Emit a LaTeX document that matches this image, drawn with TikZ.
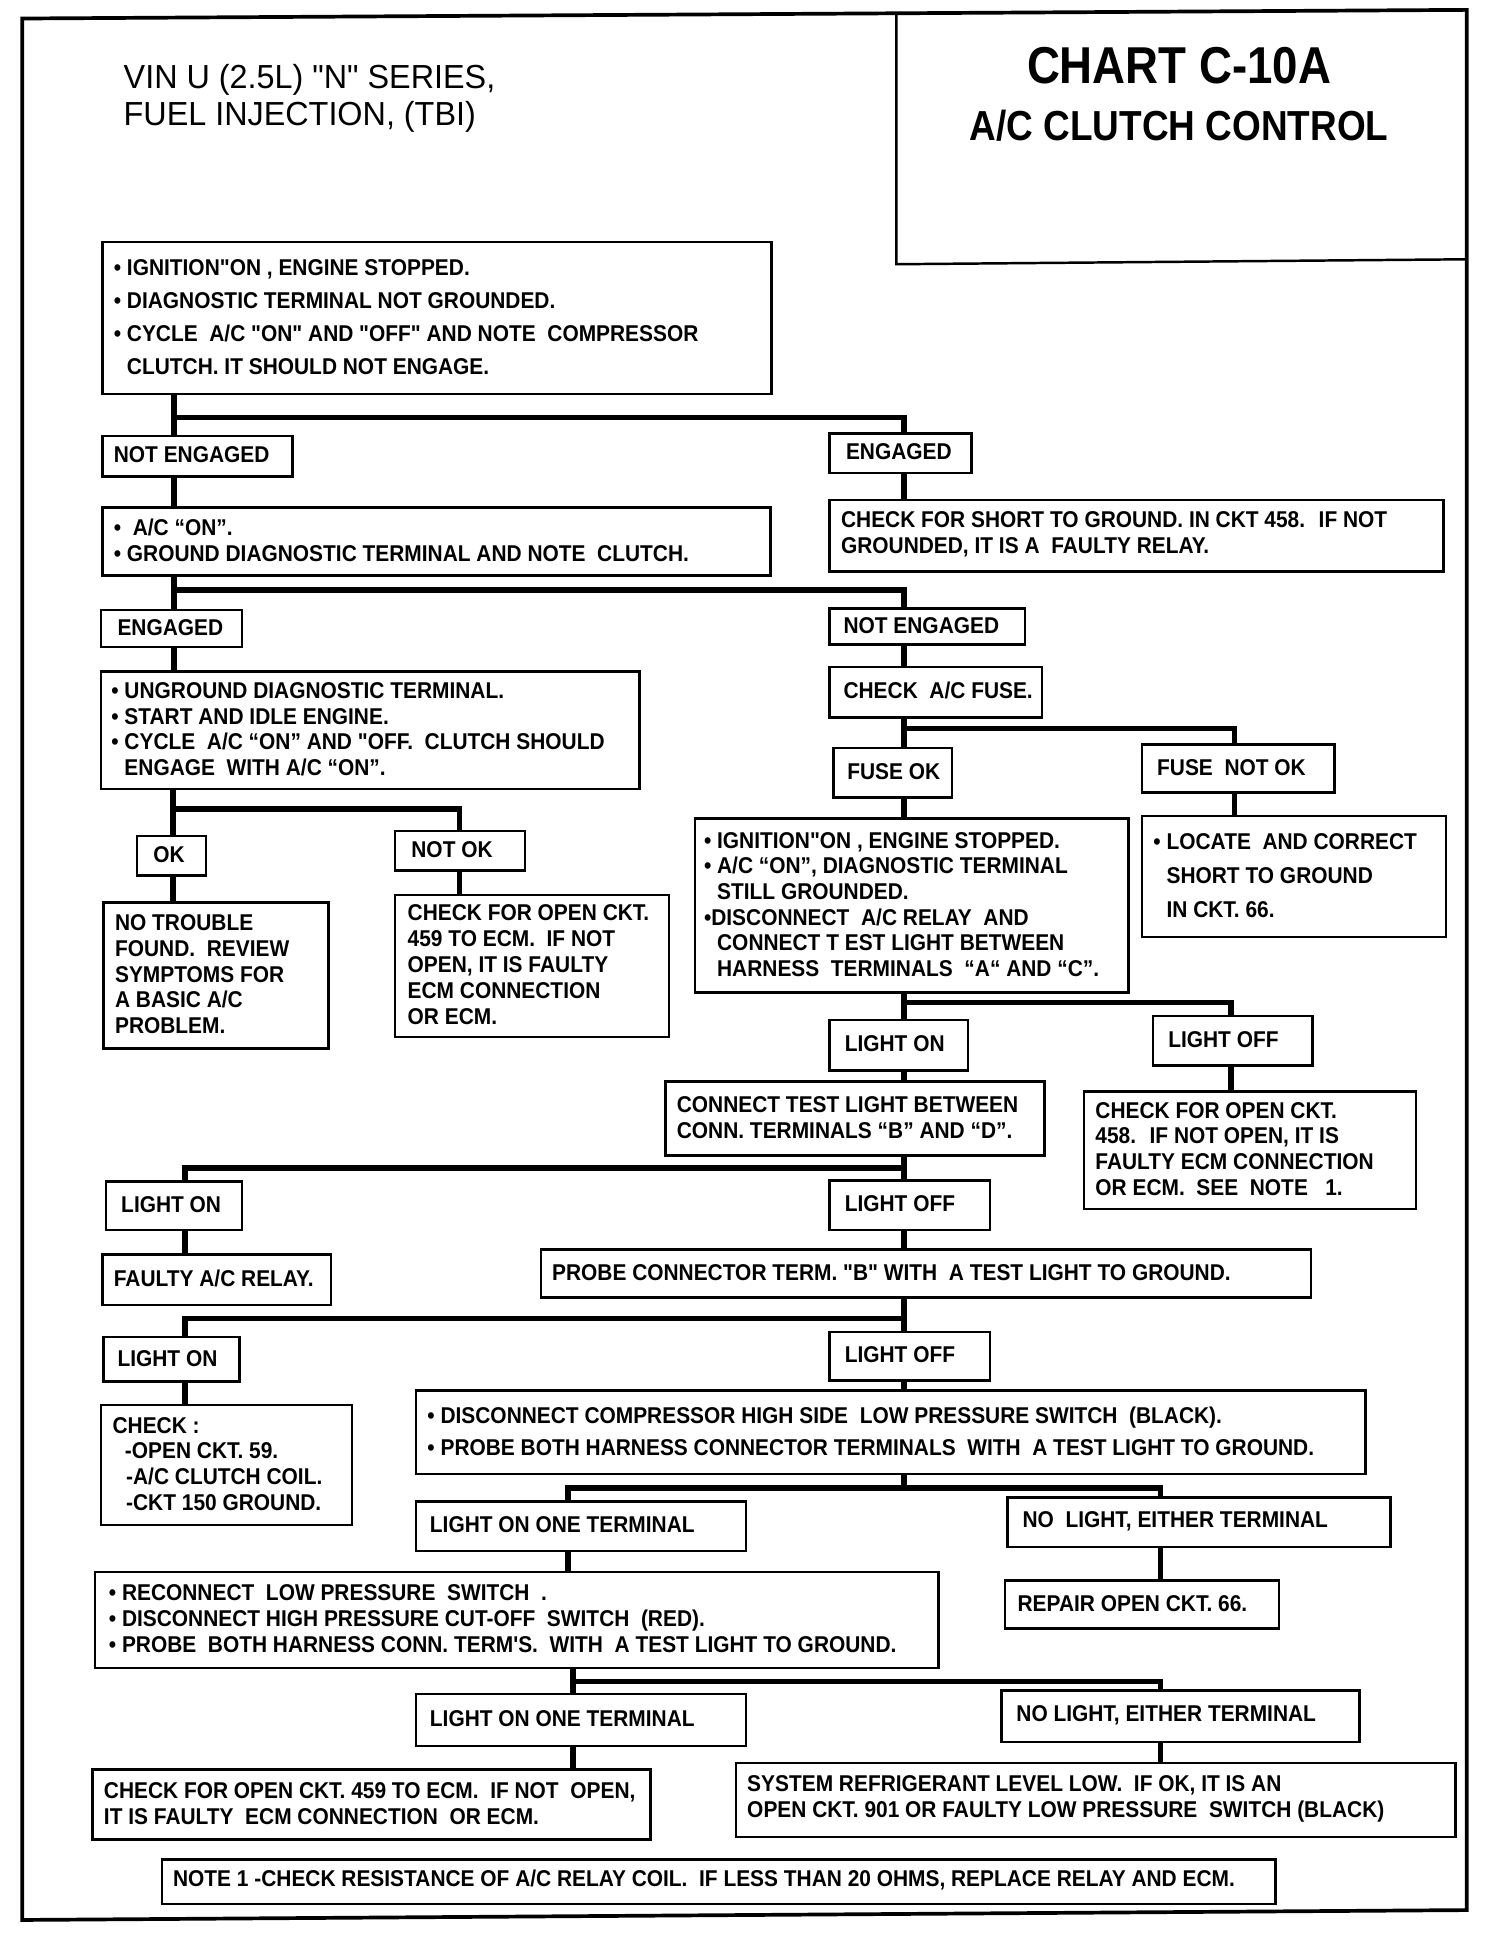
\documentclass[tikz,border=0pt]{standalone}
\usepackage{fontspec}
\usepackage{graphicx}
\setmainfont{Liberation Sans}
\newfontfamily\bxf{Liberation Sans}[FakeStretch=0.915]
\newfontfamily\ttlf{Liberation Sans}[FakeStretch=0.88]
\newfontfamily\hdf{Liberation Sans}[FakeStretch=0.97]
\usetikzlibrary{calc}
\newcommand\mkbox[8]{%
  \pgfmathsetmacro\bxw{#4-#2}%
  \pgfmathsetmacro\bxh{#5-#3}%
  \node[box, minimum width=\bxw pt, minimum height=\bxh pt] (#1) at (#2,#3) {};
  \node[txt=#7] (#1-t) at (#6,{(#3+#5)/2}) {#8};
}
\newcommand\bu{•}
\newcommand\bl{\phantom{\bu\ }}
\begin{document}
\begin{tikzpicture}[x=1pt,y=-1pt,
  box/.style={draw, line width=2pt, inner sep=0pt, anchor=north west},
  txt/.style={anchor=west, align=left, inner sep=0pt, font=\bxf\bfseries\fontsize{18.5}{#1}\selectfont},
  conn/.style={line width=4.5pt},
  frame/.style={line width=3pt}]
\useasboundingbox (0,0) rectangle (1218,1568);
% outer frame and header
\draw[frame] (18,15) -- (1188,8) -- (1188,1547) -- (18,1555) -- cycle;
\draw[line width=2pt] (726,12) -- (726,214) -- (1188,210);
\node[font=\ttlf\bfseries\fontsize{42}{42}\selectfont] (title) at (955,53) {CHART C-10A};
\node[font=\ttlf\bfseries\fontsize{34}{34}\selectfont] (subtitle) at (955,102) {A/C CLUTCH CONTROL};
\node[anchor=west, align=left, inner sep=0pt, font=\hdf\fontsize{27}{30}\selectfont] (hdr) at (100,80) {VIN U (2.5L) "N" SERIES,\\FUEL INJECTION, (TBI)};
% boxes
\mkbox{b1}{82}{195}{624}{318}{92}{26.7}{\bu\ IGNITION"ON , ENGINE STOPPED.\\\bu\ DIAGNOSTIC TERMINAL NOT GROUNDED.\\\bu\ CYCLE~ A/C "ON" AND "OFF" AND NOTE~ COMPRESSOR\\\bl CLUTCH. IT SHOULD NOT ENGAGE.}
\mkbox{ne1}{82}{352}{236}{385}{92}{20}{NOT ENGAGED}
\mkbox{eng1}{671}{350}{786}{382}{685}{20}{ENGAGED}
\mkbox{short}{671}{404}{1168}{462}{681}{21}{CHECK FOR SHORT TO GROUND. IN CKT 458.~ IF NOT\\GROUNDED, IT IS A~ FAULTY RELAY.}
\mkbox{b2}{82}{410}{623}{465}{92}{20.8}{\bu~ A/C “ON”.\\\bu\ GROUND DIAGNOSTIC TERMINAL AND NOTE~ CLUTCH.}
\mkbox{eng2}{81}{493}{195}{523}{95}{20}{ENGAGED}
\mkbox{ne2}{671}{492}{829}{521}{683}{20}{NOT ENGAGED}
\mkbox{b3}{81}{543}{517}{638}{90}{20.8}{\bu\ UNGROUND DIAGNOSTIC TERMINAL.\\\bu\ START AND IDLE ENGINE.\\\bu\ CYCLE~ A/C “ON” AND "OFF.~ CLUTCH SHOULD\\\bl ENGAGE~ WITH A/C “ON”.}
\mkbox{ok}{110}{676}{166}{708}{124}{20}{OK}
\mkbox{notok}{319}{672}{424}{704}{333}{20}{NOT OK}
\mkbox{notr}{83}{730}{265}{848}{93}{20.8}{NO TROUBLE\\FOUND.~ REVIEW\\SYMPTOMS FOR\\A BASIC A/C\\PROBLEM.}
\mkbox{cka}{319}{724}{541}{839}{330}{21}{CHECK FOR OPEN CKT.\\459 TO ECM.~ IF NOT\\OPEN, IT IS FAULTY\\ECM CONNECTION\\OR ECM.}
\mkbox{fuse}{671}{539}{843}{580}{683}{20}{CHECK~ A/C FUSE.}
\mkbox{fok}{674}{605}{770}{645}{686}{20}{FUSE OK}
\mkbox{fnok}{924}{602}{1080}{641}{937}{20}{FUSE~ NOT OK}
\mkbox{ign}{562}{662}{913}{803}{570}{20.8}{\bu\ IGNITION"ON , ENGINE STOPPED.\\\bu\ A/C “ON”, DIAGNOSTIC TERMINAL\\\bl STILL GROUNDED.\\\bu DISCONNECT~ A/C RELAY~ AND\\\bl CONNECT T EST LIGHT BETWEEN\\\bl HARNESS~ TERMINALS~ “A“ AND “C”.}
\mkbox{loc}{924}{660}{1170}{758}{934}{27.5}{\bu\ LOCATE~ AND CORRECT\\\bl SHORT TO GROUND\\\bl IN CKT. 66.}
\mkbox{lon1}{671}{825}{783}{866}{684}{20}{LIGHT ON}
\mkbox{loff1}{933}{822}{1062}{862}{946}{20}{LIGHT OFF}
\mkbox{ckb}{877}{883}{1146}{978}{887}{20.8}{CHECK FOR OPEN CKT.\\458.~ IF NOT OPEN, IT IS\\FAULTY ECM CONNECTION\\OR ECM.~ SEE~ NOTE~~ 1.}
\mkbox{conn}{538}{875}{845}{935}{548}{20.8}{CONNECT TEST LIGHT BETWEEN\\CONN. TERMINALS “B” AND “D”.}
\mkbox{lon2}{85}{956}{195}{995}{98}{20}{LIGHT ON}
\mkbox{loff2}{671}{955}{801}{995}{684}{20}{LIGHT OFF}
\mkbox{relay}{82}{1015}{267}{1056}{92}{20}{FAULTY A/C RELAY.}
\mkbox{probe}{437}{1011}{1061}{1050}{447}{20}{PROBE CONNECTOR TERM. "B" WITH~ A TEST LIGHT TO GROUND.}
\mkbox{lon3}{83}{1082}{193}{1118}{95}{20}{LIGHT ON}
\mkbox{loff3}{671}{1078}{801}{1117}{684}{20}{LIGHT OFF}
\mkbox{chk}{81}{1137}{284}{1234}{91}{20.8}{CHECK :\\\hspace*{10pt}-OPEN CKT. 59.\\\hspace*{11pt}-A/C CLUTCH COIL.\\\hspace*{11pt}-CKT 150 GROUND.}
\mkbox{disc}{336}{1125}{1105}{1193}{346}{26}{\bu\ DISCONNECT COMPRESSOR HIGH SIDE~ LOW PRESSURE SWITCH~ (BLACK).\\\bu\ PROBE BOTH HARNESS CONNECTOR TERMINALS~ WITH~ A TEST LIGHT TO GROUND.}
\mkbox{loota}{336}{1215}{603}{1255}{348}{20}{LIGHT ON ONE TERMINAL}
\mkbox{nola}{815}{1212}{1125}{1252}{828}{20}{NO~ LIGHT, EITHER TERMINAL}
\mkbox{repair}{813}{1279}{1035}{1318}{824}{20}{REPAIR OPEN CKT. 66.}
\mkbox{recon}{76}{1272}{759}{1350}{88}{20.8}{\bu\ RECONNECT~ LOW PRESSURE~ SWITCH~ .\\\bu\ DISCONNECT HIGH PRESSURE CUT-OFF~ SWITCH~ (RED).\\\bu\ PROBE~ BOTH HARNESS CONN. TERM'S.~ WITH~ A TEST LIGHT TO GROUND.}
\mkbox{lootb}{336}{1371}{603}{1413}{348}{20}{LIGHT ON ONE TERMINAL}
\mkbox{nolb}{810}{1368}{1100}{1410}{823}{20}{NO LIGHT, EITHER TERMINAL}
\mkbox{ckc}{74}{1432}{526}{1489}{84}{21}{CHECK FOR OPEN CKT. 459 TO ECM.~ IF NOT~ OPEN,\\IT IS FAULTY~ ECM CONNECTION~ OR ECM.}
\mkbox{sys}{595}{1427}{1178}{1487}{605}{21}{SYSTEM REFRIGERANT LEVEL LOW.~ IF OK, IT IS AN\\OPEN CKT. 901 OR FAULTY LOW PRESSURE~ SWITCH (BLACK)}
\mkbox{note}{130}{1505}{1032}{1541}{140}{20}{NOTE 1 -CHECK RESISTANCE OF A/C RELAY COIL.~ IF LESS THAN 20 OHMS, REPLACE RELAY AND ECM.}
% junctions
\coordinate (j1) at (141,338); \coordinate (j1r) at (732,338);
\coordinate (j2) at (141,478); \coordinate (j2r) at (732,478);
\coordinate (j3) at (140,655); \coordinate (j3r) at (372,655);
\coordinate (j4) at (732,590); \coordinate (j4r) at (1000,590);
\coordinate (j5) at (732,812); \coordinate (j5r) at (997,812);
\coordinate (j6) at (732,946); \coordinate (j6l) at (150,946);
\coordinate (j7) at (732,1068); \coordinate (j7l) at (150,1068);
\coordinate (j8) at (732,1205); \coordinate (j8l) at (460,1205); \coordinate (j8r) at (940,1205);
\coordinate (j9) at (464,1362); \coordinate (j9r) at (940,1362);
% connectors
\draw[conn] (b1.south -| j1) -- (j1) -- (j1r) -- (eng1.north -| j1r);
\draw[conn] (j1) -- (ne1.north -| j1);
\draw[conn] (ne1.south -| j1) -- (b2.north -| j1);
\draw[conn] (eng1.south -| j1r) -- (short.north -| j1r);
\draw[conn] (b2.south -| j2) -- (j2) -- (j2r) -- (ne2.north -| j2r);
\draw[conn] (j2) -- (eng2.north -| j2);
\draw[conn] (eng2.south -| j2) -- (b3.north -| j2);
\draw[conn] (b3.south -| j3) -- (j3) -- (j3r) -- (notok.north -| j3r);
\draw[conn] (j3) -- (ok.north -| j3);
\draw[conn] (ok.south -| j3) -- (notr.north -| j3);
\draw[conn] (notok.south -| j3r) -- (cka.north -| j3r);
\draw[conn] (ne2.south -| j4) -- (fuse.north -| j4);
\draw[conn] (fuse.south -| j4) -- (j4) -- (j4r) -- (fnok.north -| j4r);
\draw[conn] (j4) -- (fok.north -| j4);
\draw[conn] (fok.south -| j4) -- (ign.north -| j4);
\draw[conn] (fnok.south -| j4r) -- (loc.north -| j4r);
\draw[conn] (ign.south -| j5) -- (j5) -- (j5r) -- (loff1.north -| j5r);
\draw[conn] (j5) -- (lon1.north -| j5);
\draw[conn] (lon1.south -| j5) -- (conn.north -| j5);
\draw[conn] (loff1.south -| j5r) -- (ckb.north -| j5r);
\draw[conn] (conn.south -| j6) -- (j6) -- (j6l) -- (lon2.north -| j6l);
\draw[conn] (j6) -- (loff2.north -| j6);
\draw[conn] (lon2.south -| j6l) -- (relay.north -| j6l);
\draw[conn] (loff2.south -| j6) -- (probe.north -| j6);
\draw[conn] (probe.south -| j7) -- (j7) -- (j7l) -- (lon3.north -| j7l);
\draw[conn] (j7) -- (loff3.north -| j7);
\draw[conn] (lon3.south -| j7l) -- (chk.north -| j7l);
\draw[conn] (loff3.south -| j7) -- (disc.north -| j7);
\draw[conn] (disc.south -| j8) -- (j8);
\draw[conn] (loota.north -| j8l) -- (j8l) -- (j8r) -- (nola.north -| j8r);
\draw[conn] (nola.south -| j8r) -- (repair.north -| j8r);
\draw[conn] (loota.south -| j8l) -- (recon.north -| j8l);
\draw[conn] (recon.south -| j9) -- (j9) -- (j9r) -- (nolb.north -| j9r);
\draw[conn] (j9) -- (lootb.north -| j9);
\draw[conn] (lootb.south -| j9) -- (ckc.north -| j9);
\draw[conn] (nolb.south -| j9r) -- (sys.north -| j9r);
\end{tikzpicture}
\end{document}
